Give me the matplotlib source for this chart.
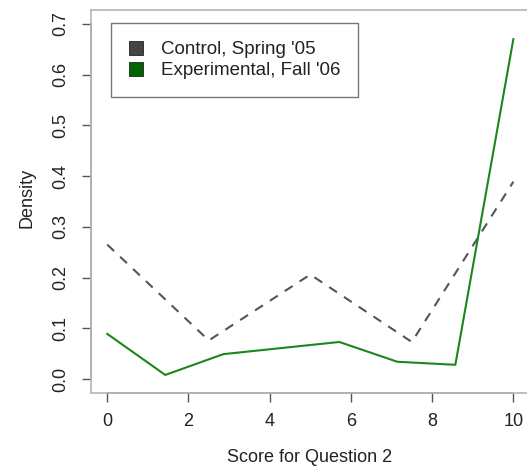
import matplotlib
matplotlib.use("Agg")
import matplotlib.pyplot as plt
from matplotlib.patches import Patch
from matplotlib.lines import Line2D

plt.rcParams['font.family'] = ['Liberation Sans', 'DejaVu Sans']

# Data
control_x = [0, 2.5, 5, 7.5, 10]
control_y = [0.265, 0.076, 0.206, 0.073, 0.389]
exp_x = [0, 10/7, 20/7, 30/7, 40/7, 50/7, 60/7, 10]
exp_y = [0.089, 0.008, 0.049, 0.061, 0.073, 0.034, 0.028, 0.670]
xticks = [0, 2, 4, 6, 8, 10]
yticks = [0.0, 0.1, 0.2, 0.3, 0.4, 0.5, 0.6, 0.7]
legend_labels = ["Control, Spring '05", "Experimental, Fall '06"]

W, H = 527, 469
fig = plt.figure(figsize=(W/100, H/100), dpi=100)
left, right, top, bottom = 91, 529.6, 9.8, 393.2
ax = fig.add_axes([left/W, 1 - bottom/H, (right-left)/W, (bottom-top)/H])
ax.set_xlim(-0.4, 10.4)
ax.set_ylim(-0.028, 0.728)

ax.plot(control_x, control_y, color='#555555', lw=1.5, dashes=(4.5, 4))
ax.plot(exp_x, exp_y, color='#1b861b', lw=1.5)

for s in ax.spines.values():
    s.set_color('#bbbbbb')
    s.set_linewidth(1.3)

# axis lines (R style)
ax.add_line(Line2D([xticks[0], xticks[-1]], [-0.028, -0.028], color='#555555', lw=1.3, clip_on=False))
ax.add_line(Line2D([-0.4, -0.4], [yticks[0], yticks[-1]], color='#555555', lw=1.3, clip_on=False))

ax.set_xticks(xticks)
ax.set_xticklabels([str(v) for v in xticks])
ax.set_yticks(yticks)
ax.set_yticklabels(['%.1f' % v for v in yticks], rotation=90, va='center')
ax.tick_params(axis='both', direction='out', length=6.5, width=1.0, color='#555555',
               labelsize=13, labelcolor='#222222')
ax.tick_params(axis='x', pad=8)
ax.tick_params(axis='y', pad=9)

fig.text(310/W, 1 - 457/H, 'Score for Question 2', ha='center', va='center', fontsize=13, color='#222222')
fig.text(27/W, 1 - 198/H, 'Density', ha='center', va='center', rotation=90, fontsize=13, color='#222222')

handles = [Patch(facecolor='#444444', edgecolor='#222222', lw=0.6),
           Patch(facecolor='#006400', edgecolor='#222222', lw=0.6)]
leg = ax.legend(handles, legend_labels, loc='upper left',
                bbox_to_anchor=((111-left)/(right-left), (bottom-23)/(bottom-top)),
                borderaxespad=0, fontsize=13.5, frameon=True, fancybox=False,
                handlelength=0.75, handleheight=0.75, handletextpad=0.95,
                borderpad=0.95, labelspacing=0.2)
leg.get_frame().set_edgecolor('#555555')
leg.get_frame().set_linewidth(1.0)
for t in leg.get_texts():
    t.set_color('#222222')

fig.savefig('out.png', dpi=100)
